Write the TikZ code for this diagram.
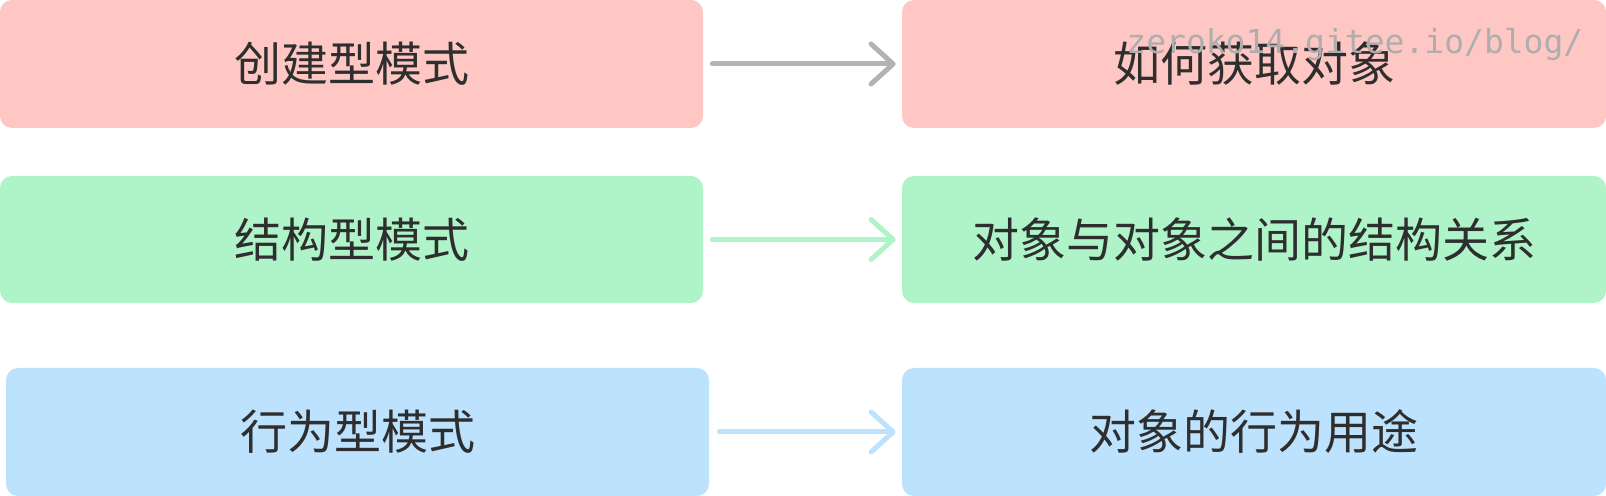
\documentclass[tikz,border=0pt]{standalone}
\usepackage{xcolor}
\usepackage{fontspec}
\usetikzlibrary{arrows.meta}
\newfontfamily\cjk{Noto Sans CJK SC}
\newfontfamily\wmfont{DejaVu Sans Mono}
\definecolor{dpred}{HTML}{FFC7C3}
\definecolor{dpgreen}{HTML}{AEF4C8}
\definecolor{dpblue}{HTML}{BDE2FD}
\definecolor{dpgray}{HTML}{B3B3B3}
\definecolor{dptext}{HTML}{2E2E2E}
\definecolor{dpmark}{HTML}{AEAEAE}

\tikzset{
  kindbox/.style={rectangle, rounded corners=6pt, inner sep=0pt,
    minimum width=351.5pt, minimum height=64pt, text=dptext,
    font=\cjk\fontsize{23.5}{28}\selectfont},
  linkarrow/.style={line width=2.5pt, line cap=round,
    -{Straight Barb[length=11pt, width=20pt, line cap=round, line join=round]}}
}

\begin{document}
\begin{tikzpicture}[x=0.5pt, y=-0.5pt]
\useasboundingbox (0,0) rectangle (1606,496);

% Creational patterns
\node[kindbox, fill=dpred] (create) at (351.5,64) {创建型模式};
\node[kindbox, fill=dpred, minimum width=352pt] (createuse) at (1254,64) {如何获取对象};

% Structural patterns
\node[kindbox, fill=dpgreen, minimum height=63.5pt] (struct) at (351.5,239.5) {结构型模式};
\node[kindbox, fill=dpgreen, minimum width=352pt, minimum height=63.5pt] (structuse) at (1254,239.5) {对象与对象之间的结构关系};

% Behavioral patterns
\node[kindbox, fill=dpblue] (behav) at (357.5,432) {行为型模式};
\node[kindbox, fill=dpblue, minimum width=352pt] (behavuse) at (1254,432) {对象的行为用途};

% Arrows
\draw[linkarrow, dpgray] ([xshift=4.5pt]create.east) -- ([xshift=-3pt]createuse.west);
\draw[linkarrow, dpgreen] ([xshift=4.5pt]struct.east) -- ([xshift=-3pt]structuse.west);
\draw[linkarrow, dpblue] ([xshift=5pt]behav.east) -- ([xshift=-3pt]behavuse.west);

% Watermark
\node[anchor=base west, inner sep=0pt, text=dpmark, font=\wmfont\fontsize{16.5}{19}\selectfont] (mark) at (1126,54) {zeroko14.gitee.io/blog/};
\end{tikzpicture}
\end{document}
